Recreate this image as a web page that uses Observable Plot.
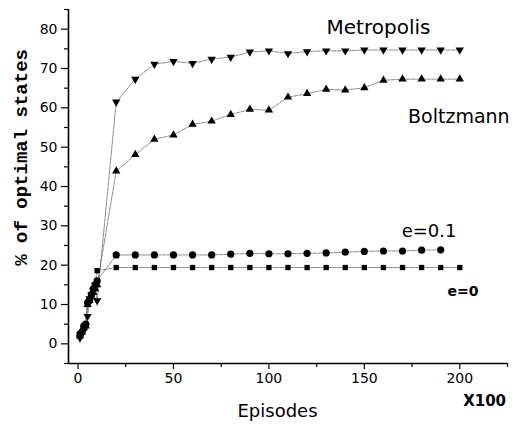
<!DOCTYPE html>
<html>
<head>
<meta charset="utf-8">
<script src="https://cdn.jsdelivr.net/npm/d3@7"></script>
<script src="https://cdn.jsdelivr.net/npm/@observablehq/plot@0.6"></script>
<style>
  html, body { margin: 0; padding: 0; background: #fff; }
</style>
</head>
<body>
<div id="chart"></div>
<script>
const episodes = [1, 2, 3, 4, 5, 6, 7, 8, 9, 10,
  20, 30, 40, 50, 60, 70, 80, 90, 100, 110, 120, 130, 140, 150, 160, 170, 180, 190, 200];
const metropolis = [1.5, 2.5, 3.5, 4.5, 7, 11.5, 12.5, 13.5, 15, 11,
  61.5, 67.3, 71.1, 71.8, 71.3, 72.4, 72.9, 74.2, 74.5, 73.8, 74.3, 74.5, 74.5, 74.7, 74.7, 74.7, 74.7, 74.7, 74.7];
const boltzmann = [2, 3, 4, 4.5, 10, 11, 12, 13, 14, 15,
  43.9, 48.1, 52.0, 53.1, 55.8, 56.6, 58.3, 59.6, 59.4, 62.7, 63.6, 64.7, 64.5, 65.1, 67.0, 67.3, 67.3, 67.3, 67.3];
const e01 = [2.5, 3, 4.5, 5, 10.5, 11, 12.5, 14, 15, 16,
  22.6, 22.6, 22.6, 22.6, 22.6, 22.6, 22.8, 23.0, 22.9, 22.9, 23.0, 23.1, 23.3, 23.5, 23.6, 23.6, 23.8, 23.9, null];
const e0 = [2.5, 3, 4, 5, 10, 11, 12.5, 13.5, 15, 18.6,
  19.4, 19.4, 19.4, 19.4, 19.4, 19.4, 19.4, 19.4, 19.4, 19.4, 19.4, 19.4, 19.4, 19.4, 19.4, 19.4, 19.4, 19.4, 19.4];

const xTicks = [0, 50, 100, 150, 200];
const xMinor = [25, 75, 125, 175, 225];
const yTicks = [0, 10, 20, 30, 40, 50, 60, 70, 80];
const yMinor = [-5, 5, 15, 25, 35, 45, 55, 65, 75, 85];

const seriesNames = ["Metropolis", "Boltzmann", "e=0.1", "e=0"];
const seriesValues = [metropolis, boltzmann, e01, e0];

const triangleDown = {
  draw(context, size) {
    const y = -Math.sqrt(size / (Math.sqrt(3) * 3));
    context.moveTo(0, -y * 2);
    context.lineTo(-Math.sqrt(3) * y, y);
    context.lineTo(Math.sqrt(3) * y, y);
    context.closePath();
  }
};
const symbols = {"Metropolis": triangleDown, "Boltzmann": "triangle", "e=0.1": "circle", "e=0": "square"};
const radii = {"Metropolis": 3.1, "Boltzmann": 3.1, "e=0.1": 3.6, "e=0": 3.0};

const rows = [];
seriesNames.forEach((name, s) => {
  episodes.forEach((x, i) => {
    const v = seriesValues[s][i];
    if (v != null) rows.push({series: name, x, y: v});
  });
});

const labels = [
  {text: "Metropolis", x: 157.4, y: 80.5, size: 20, weight: "normal"},
  {text: "Boltzmann", x: 199.5, y: 57.6, size: 19, weight: "normal"},
  {text: "e=0.1", x: 183.9, y: 28.6, size: 18, weight: "normal"},
  {text: "e=0", x: 201.7, y: 13.4, size: 14, weight: "bold"}
];

const chart = Plot.plot({
  width: 512,
  height: 425,
  marginLeft: 68,
  marginRight: 5,
  marginTop: 9,
  marginBottom: 62,
  style: {fontFamily: "DejaVu Sans", fontSize: "14px", color: "#000", background: "#fff"},
  x: {domain: [-5, 225], label: null},
  y: {domain: [-5, 85], label: null},
  marks: [
    Plot.axisY({ticks: yMinor, tickSize: 4, tickFormat: () => "", strokeWidth: 1.2}),
    Plot.axisY({ticks: yTicks, tickSize: 7, tickPadding: 4, strokeWidth: 1.2, fontSize: 14}),
    Plot.axisX({ticks: xMinor, tickSize: 4, tickFormat: () => "", strokeWidth: 1.2}),
    Plot.axisX({ticks: xTicks, tickSize: 6, tickPadding: 4, strokeWidth: 1.2, fontSize: 14}),
    Plot.ruleX([-5], {y1: -5, y2: 85, stroke: "#000", strokeWidth: 1.6}),
    Plot.ruleY([-5], {x1: -5, x2: 225, stroke: "#000", strokeWidth: 1.6}),
    Plot.line(rows, {x: "x", y: "y", z: "series", stroke: "#666", strokeWidth: 0.75, strokeDasharray: "4,1.2"}),
    ...seriesNames.map(name => Plot.dot(rows.filter(d => d.series === name), {
      x: "x", y: "y", symbol: () => symbols[name], r: radii[name], fill: "#000", stroke: "none"
    })),
    ...labels.map(l => Plot.text([l], {x: "x", y: "y", text: "text", fontSize: l.size, fontWeight: l.weight, fill: "#000"})),
    Plot.text(["Episodes"], {x: 104.5, y: -17.2, text: d => d, fontSize: 18, fill: "#000"}),
    Plot.text(["X100"], {x: 213, y: -14.5, text: d => d, fontSize: 15, fontWeight: "bold", fill: "#000"}),
    Plot.text(["% of optimal states"], {x: -30.1, y: 47.4, text: d => d, rotate: -90, fontSize: 19, fontWeight: "bold", fontFamily: "Liberation Mono", fill: "#000"})
  ]
});
document.getElementById("chart").appendChild(chart);
</script>
</body>
</html>
